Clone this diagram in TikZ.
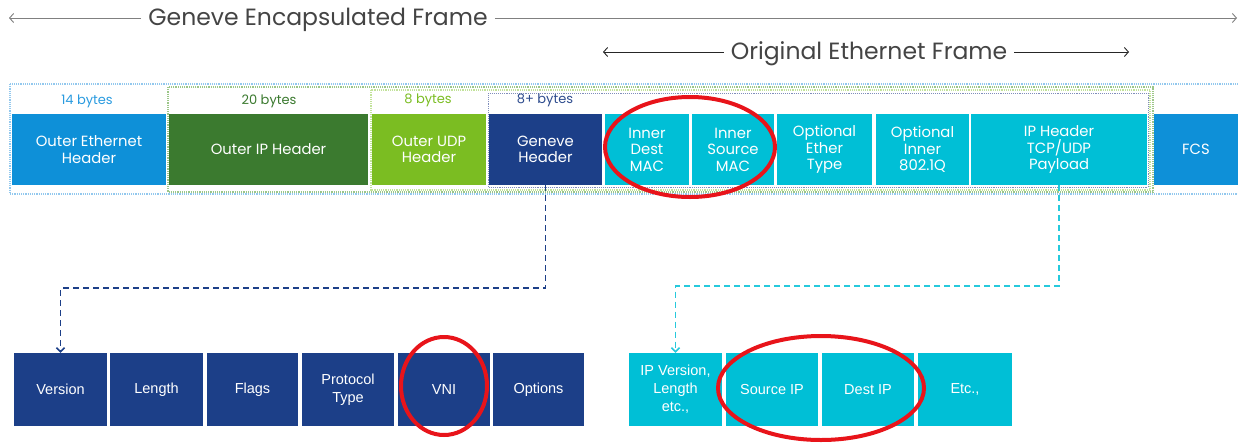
\documentclass[tikz,border=0pt]{standalone}
\usepackage{fontspec}
\setmainfont{Poppins}
\newfontfamily\arialf{Liberation Sans}
\usetikzlibrary{arrows.meta,shapes.geometric}
\definecolor{ethblue}{HTML}{0E90D8}
\definecolor{bytesblue}{HTML}{2A9BE0}
\definecolor{ipgreen}{HTML}{3B7A2F}
\definecolor{udpgreen}{HTML}{7BBD22}
\definecolor{navy}{HTML}{1C3F88}
\definecolor{navytext}{HTML}{2E4C8E}
\definecolor{cyanbox}{HTML}{00BFD6}
\definecolor{ringred}{HTML}{E8141A}
\definecolor{frameblue}{HTML}{92C8EE}
\definecolor{framegreen}{HTML}{9CC688}
\definecolor{framelgreen}{HTML}{C2E29A}
\definecolor{framenavy}{HTML}{7F8DBA}
\definecolor{titlegrey}{HTML}{444444}
\begin{document}
\begin{tikzpicture}[x=1pt,y=-1pt,
  topbox/.style={minimum height=71pt, inner sep=0pt, align=center, text=white, font=\fontsize{14.8}{16.5}\selectfont},
  botbox/.style={minimum height=73pt, inner sep=0pt, align=center, text=white, font=\arialf\fontsize{14.5}{18}\selectfont},
  bytes/.style={font=\fontsize{13}{14}\selectfont, inner sep=0pt},
  ttl/.style={font=\fontsize{23.5}{26}\selectfont, text=titlegrey, inner sep=7pt},
  ring/.style={draw=ringred, line width=4pt, ellipse, inner sep=0pt},
  thinarrow/.style={line width=0.9pt, -{Straight Barb[length=4pt,width=9pt]}},
  navydash/.style={draw=navy, line width=1.6pt, dash pattern=on 6pt off 4pt, -{Straight Barb[length=4pt,width=8pt]}},
  cyandash/.style={draw=cyanbox!85!white, line width=1.6pt, dash pattern=on 6pt off 4pt, -{Straight Barb[length=4pt,width=8pt]}},
]
\useasboundingbox (0,0) rectangle (1238,442);
\fill[white] (0,0) rectangle (1238,442);

% titles with arrows
\node[ttl] (t1) at (318,19.5) {Geneve Encapsulated Frame};
\coordinate (t1l) at (9,18);
\coordinate (t1r) at (1237,18);
\draw[thinarrow, draw=gray] (t1.west |- t1l) -- (t1l);
\draw[thinarrow, draw=gray] (t1.east |- t1r) -- (t1r);

\node[ttl] (t2) at (869,53.5) {Original Ethernet Frame};
\coordinate (t2l) at (603,52);
\coordinate (t2r) at (1129,52);
\draw[thinarrow, draw=black!85] (t2.west |- t2l) -- (t2l);
\draw[thinarrow, draw=black!85] (t2.east |- t2r) -- (t2r);

% frames
\draw[frameblue, line width=1.2pt, densely dotted] (10,84) rectangle (1250,194);
\draw[framegreen, line width=1.2pt, densely dotted] (168,87) rectangle (1153,192);
\draw[framelgreen, line width=1.2pt, densely dotted] (371,90) rectangle (1150,190);
\draw[framenavy, line width=0.9pt, densely dotted] (488,93) rectangle (1148,187);

% byte labels
\node[bytes, text=bytesblue] (b14) at (87,101) {14 bytes};
\node[bytes, text=ipgreen] (b20) at (269,101) {20 bytes};
\node[bytes, text=udpgreen] (b8) at (428,100) {8 bytes};
\node[bytes, text=navytext] (b8p) at (545,100) {8+ bytes};

% top row
\node[topbox, fill=ethblue, minimum width=154pt] (oeth) at (89,149.5) {Outer Ethernet\\Header};
\node[topbox, fill=ipgreen, minimum width=199pt] (oip) at (268.5,149.5) {Outer IP Header};
\node[topbox, fill=udpgreen, minimum width=114pt] (oudp) at (429,149.5) {Outer UDP\\Header};
\node[topbox, fill=navy, minimum width=113pt] (gen) at (545.5,149.5) {Geneve\\Header};
\node[topbox, fill=cyanbox, minimum width=84pt] (idmac) at (647,149.5) {Inner\\Dest\\MAC};
\node[topbox, fill=cyanbox, minimum width=82pt] (ismac) at (733,149.5) {Inner\\Source\\MAC};
\node[topbox, fill=cyanbox, minimum width=95pt] (oet) at (824.5,149.5) {Optional\\Ether\\Type};
\node[topbox, fill=cyanbox, minimum width=93pt] (oin) at (922.5,149.5) {Optional\\Inner\\802.1Q};
\node[topbox, fill=cyanbox, minimum width=176pt] (iph) at (1059,149.5) {IP Header\\TCP/UDP\\Payload};
\node[topbox, fill=ethblue, minimum width=90pt] (fcs) at (1199,149.5) {\hspace*{-6pt}FCS};

% bottom left row
\node[botbox, fill=navy, minimum width=93pt] (ver) at (60.5,389.5) {Version};
\node[botbox, fill=navy, minimum width=93pt] (len) at (156.5,389.5) {Length};
\node[botbox, fill=navy, minimum width=91pt] (flg) at (252.5,389.5) {Flags};
\node[botbox, fill=navy, minimum width=92pt] (pro) at (348,389.5) {Protocol\\Type};
\node[botbox, fill=navy, minimum width=92pt] (vni) at (444,389.5) {VNI};
\node[botbox, fill=navy, minimum width=91pt] (opt) at (538.5,389.5) {Options};

% bottom right row
\node[botbox, fill=cyanbox, minimum width=93pt] (ipv) at (675.5,389.5) {IP Version,\\Length\\etc.,};
\node[botbox, fill=cyanbox, minimum width=92pt] (sip) at (772,389.5) {Source IP};
\node[botbox, fill=cyanbox, minimum width=92pt] (dip) at (868,389.5) {Dest IP};
\node[botbox, fill=cyanbox, minimum width=94pt] (etc) at (965,389.5) {Etc.,};

% connectors
\draw[navydash] (gen.south) -- ++(0,103) -| (ver.north);
\draw[cyandash] (iph.south) -- ++(0,101) -| (ipv.north);

% red rings
\node[ring, minimum width=170pt, minimum height=100pt] (r1) at (690,147) {};
\node[ring, minimum width=86pt, minimum height=98pt] (r2) at (444,386) {};
\node[ring, minimum width=206pt, minimum height=104pt] (r3) at (821,388) {};
\end{tikzpicture}
\end{document}
